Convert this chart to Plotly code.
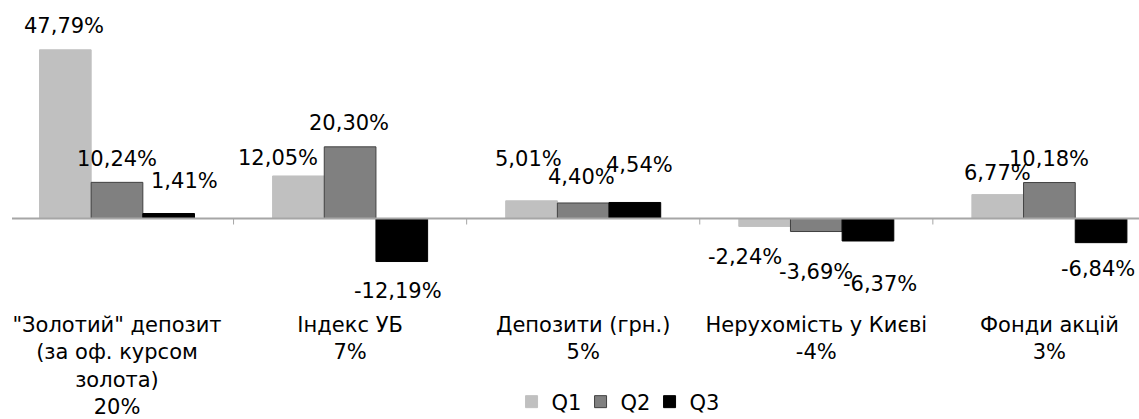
import plotly.graph_objects as go

# Category labels (line breaks kept as in the axis labels)
categories = [
    '"Золотий" депозит<br>(за оф. курсом<br>золота)<br>20%',
    'Індекс УБ<br>7%',
    'Депозити (грн.)<br>5%',
    'Нерухомість у Києві<br>-4%',
    'Фонди акцій<br>3%',
]
series_names = ["Q1", "Q2", "Q3"]
q1 = [47.79, 12.05, 5.01, -2.24, 6.77]
q2 = [10.24, 20.30, 4.40, -3.69, 10.18]
q3 = [1.41, -12.19, 4.54, -6.37, -6.84]

series_values = [q1, q2, q3]
fills = ["#c0c0c0", "#808080", "#000000"]
edges = ["#c0c0c0", "#404040", "#000000"]

# label placement relative to the bar end, in pixels: (sideways, outward)
label_nudge = {
    "Q1": [(-1.5, 25), (-20, 18.5), (-3.5, 43), (-20, 30), (0, 23)],
    "Q2": [(0, 24), (-1, 24.5), (-1.5, 27), (0, 39), (0, 25)],
    "Q3": [(16, 34), (-4, 28), (5, 38.5), (12, 42.5), (-3, 25.5)],
}

FONT = "DejaVu Sans"
FS = 21
BARGAP = 0.335

x_pos = list(range(len(categories)))

fig = go.Figure()
for name, vals, fc, ec in zip(series_names, series_values, fills, edges):
    fig.add_trace(go.Bar(
        x=x_pos, y=vals, name=name,
        marker=dict(color=fc, line=dict(color=ec, width=1)),
    ))

def fmt(v):
    return f"{v:.2f}".replace(".", ",") + "%"

bar_w = (1 - BARGAP) / len(series_names)
annotations = []
for s, (name, vals) in enumerate(zip(series_names, series_values)):
    for i, v in enumerate(vals):
        dx, dy = label_nudge[name][i]
        sign = 1 if v >= 0 else -1
        annotations.append(dict(
            x=i + (s - 1) * bar_w, y=v, xref="x", yref="y",
            text=fmt(v), showarrow=False,
            xanchor="center", yanchor="middle",
            xshift=dx, yshift=sign * dy - 1,
            font=dict(family=FONT, size=FS, color="#000000"),
        ))

shapes = [dict(
    type="line", xref="paper", yref="y",
    x0=12 / 1139, x1=1, y0=0, y1=0,
    line=dict(color="#a6a6a6", width=2), layer="above",
)]
for b in [0.5, 1.5, 2.5, 3.5]:
    shapes.append(dict(
        type="line", xref="x", yref="y",
        ysizemode="pixel", yanchor=0,
        x0=b, x1=b, y0=0, y1=-6,
        line=dict(color="#a6a6a6", width=1),
    ))

px_per_unit = 3.53
zero_px = 218.5
plot_h = 300
y_max = zero_px / px_per_unit
y_min = -(plot_h - zero_px) / px_per_unit

cat_w = 233.1
first_c = 117
x_lo = -first_c / cat_w
x_hi = (1139 - first_c) / cat_w

fig.update_layout(
    template="none",
    width=1139, height=419,
    margin=dict(l=0, r=0, t=0, b=419 - plot_h, pad=0, autoexpand=False),
    paper_bgcolor="white", plot_bgcolor="white",
    barmode="group", bargap=BARGAP, bargroupgap=0,
    font=dict(family=FONT, size=FS, color="#000000"),
    showlegend=True,
    legend=dict(
        orientation="h", x=0.54, xanchor="center",
        y=-(402 - plot_h) / plot_h, yanchor="middle",
        font=dict(family=FONT, size=FS, color="#000000"),
        bgcolor="rgba(0,0,0,0)",
        entrywidth=24, entrywidthmode="pixels",
    ),
    xaxis=dict(
        range=[x_lo, x_hi], tickmode="array", tickvals=x_pos, ticktext=categories,
        tickangle=0, showgrid=False, zeroline=False, showline=False, ticks="",
        automargin=False, ticklabelstandoff=10,
        tickfont=dict(family=FONT, size=FS, color="#000000"),
    ),
    yaxis=dict(
        range=[y_min, y_max], showgrid=False, zeroline=False, showline=False,
        showticklabels=False, ticks="", automargin=False,
    ),
    annotations=annotations,
    shapes=shapes,
)

fig.write_html("out.html")
